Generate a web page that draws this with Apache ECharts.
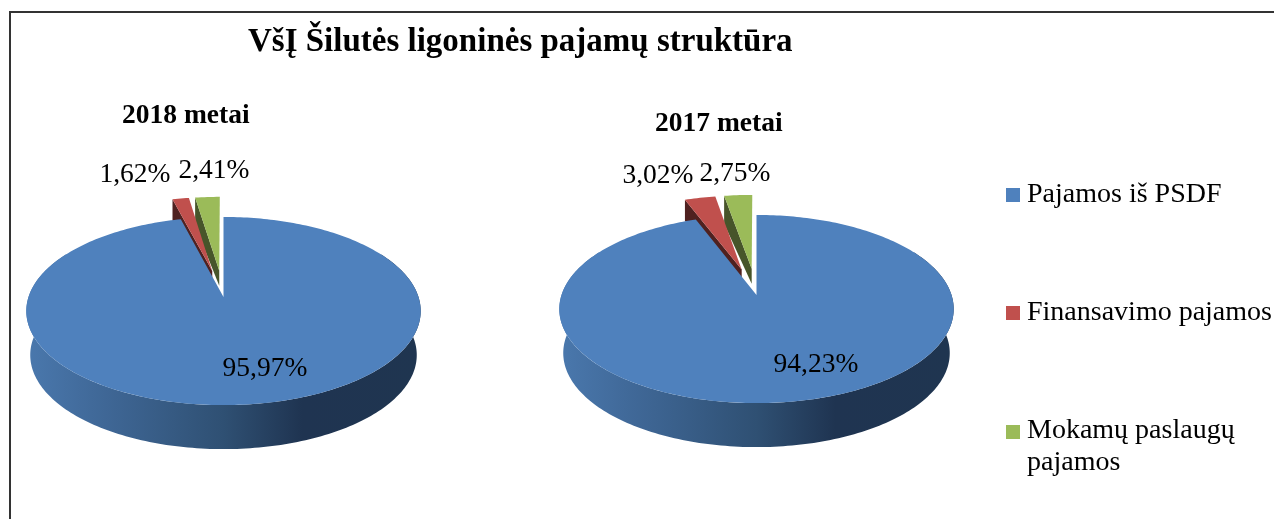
<!DOCTYPE html>
<html>
<head>
<meta charset="utf-8">
<style>html,body{margin:0;padding:0;background:#fff}#c{width:1274px;height:519px}</style>
<script src="https://cdn.jsdelivr.net/npm/echarts@6/dist/echarts.min.js"></script>
</head>
<body>
<div id="c"></div>
<script>
const chartTitle = 'VšĮ Šilutės ligoninės pajamų struktūra';
const years = ['2018 metai', '2017 metai'];
const categories = ['Pajamos iš PSDF', 'Finansavimo pajamos', 'Mokamų paslaugų pajamos'];
const psdfShare = [95.97, 94.23];
const financingShare = [1.62, 3.02];
const paidShare = [2.41, 2.75];

const serif = '"Liberation Serif", serif';
const pieCenters = [{ cx: 223.5, apexY: 297 }, { cx: 756.5, apexY: 295 }];
const shape = { A: 92, B: 195, k: 0.149, frontDepth: 44, backDepth: [0, 21, 28], explode: 0.3, apexDepth: 15, shrink: 0.98 };
const labelAnchors = {
  psdf: [[265, 369], [816, 365]],
  financing: [[135, 175], [658, 176]],
  paid: [[214, 171], [735, 174]]
};
const topFill = ['#4f81bd', '#c0504d', '#9bbb59'];
const sideFill = [null, '#4f2120', '#47552a'];

function rows(i) { return [psdfShare[i], financingShare[i], paidShare[i]]; }
function project(p, theta, r, ox, oy) {
  const u = r * Math.sin(theta) + ox, v = r * Math.cos(theta) + oy, w = 1 + shape.k * v;
  return { x: p.cx + shape.B * u / w, y: p.apexY - shape.A * v / w, w: w };
}
function arc(p, a0, a1, ox, oy) {
  const n = Math.max(2, Math.ceil(Math.abs(a1 - a0) / 0.02)), out = [];
  for (let j = 0; j <= n; j++) out.push(project(p, a0 + (a1 - a0) * j / n, 1, ox, oy));
  return out;
}
function xy(q) { return [q.x, q.y]; }

function makeRender(catIndex, anchors) {
  return function (params, api) {
    const i = params.dataIndex, p = pieCenters[i], vals = rows(i);
    const total = vals.reduce((a, b) => a + b, 0);
    let before = 0;
    for (let c = 0; c < catIndex; c++) before += vals[c];
    const a0 = before / total * Math.PI * 2;
    const a1 = (before + api.value(0)) / total * Math.PI * 2;
    const mid = (a0 + a1) / 2;
    const children = [];
    if (catIndex === 0) {
      const lo = Math.PI / 3, hi = Math.PI * 5 / 3;
      const rim = arc(p, lo, hi, 0, 0);
      const low = rim.map(q => [p.cx + (q.x - p.cx) * shape.shrink, q.y + shape.frontDepth]).reverse();
      children.push({
        type: 'polygon',
        shape: { points: rim.map(xy).concat(low) },
        style: {
          fill: new echarts.graphic.LinearGradient(1, 0, 0, 0, [
            { offset: 0, color: '#1f3550' },
            { offset: 0.3, color: '#1f3451' },
            { offset: 0.5, color: '#2f5073' },
            { offset: 0.8, color: '#3f6796' },
            { offset: 1, color: '#4a78ad' }
          ])
        }
      });
      children.push({
        type: 'polygon',
        shape: { points: [[p.cx, p.apexY]].concat(arc(p, a0, a1, 0, 0).map(xy)) },
        style: { fill: topFill[0] }
      });
    } else {
      const ox = shape.explode * Math.sin(mid), oy = shape.explode * Math.cos(mid);
      const apex = project(p, 0, 0, ox, oy);
      const start = project(p, a0, 1, ox, oy);
      children.push({
        type: 'polygon',
        shape: { points: [xy(apex), xy(start), [start.x, start.y + shape.backDepth[catIndex]], [apex.x, apex.y + shape.apexDepth]] },
        style: { fill: sideFill[catIndex] }
      });
      children.push({
        type: 'polygon',
        shape: { points: [xy(apex)].concat(arc(p, a0, a1, ox, oy).map(xy)) },
        style: { fill: topFill[catIndex] }
      });
    }
    children.push({
      type: 'text',
      style: {
        x: anchors[i][0], y: anchors[i][1],
        text: api.value(0).toFixed(2).replace('.', ',') + '%',
        fill: '#000', font: '27.5px ' + serif, align: 'center', verticalAlign: 'middle'
      }
    });
    return { type: 'group', children: children };
  };
}
function pieSeries(catIndex, values, anchors, z) {
  return {
    type: 'custom', name: categories[catIndex], coordinateSystem: 'none', z: z,
    itemStyle: { color: topFill[catIndex] },
    data: values.map(v => [v]),
    renderItem: makeRender(catIndex, anchors)
  };
}
const legendText = { color: '#000', fontFamily: serif, fontSize: 28, padding: [0, 0, 0, 2] };
const legendBase = { orient: 'vertical', left: 1006, itemWidth: 14, itemHeight: 14, icon: 'rect', selectedMode: false, padding: 0, textStyle: legendText };

const chart = echarts.init(document.getElementById('c'));
chart.setOption({
  backgroundColor: '#fff',
  animation: false,
  title: [
    { text: chartTitle, left: 248, top: 26, padding: 0, textStyle: { fontFamily: serif, fontSize: 33, fontWeight: 'bold', color: '#000' } },
    { text: years[0], left: 122, top: 102, padding: 0, textStyle: { fontFamily: serif, fontSize: 27.5, fontWeight: 'bold', color: '#000' } },
    { text: years[1], left: 655, top: 110, padding: 0, textStyle: { fontFamily: serif, fontSize: 27.5, fontWeight: 'bold', color: '#000' } }
  ],
  legend: [
    Object.assign({}, legendBase, { top: 181, data: [categories[0]] }),
    Object.assign({}, legendBase, { top: 299, data: [categories[1]] }),
    Object.assign({}, legendBase, { top: 415, itemHeight: 64, data: [{ name: categories[2], icon: 'path://M0 0L0 0ZM0 10H14V24H0ZM0 64L0 64Z' }],
      formatter: () => 'Mokamų paslaugų\npajamos',
      textStyle: Object.assign({}, legendText, { lineHeight: 32 }) })
  ],
  graphic: [{
    type: 'polyline', silent: true,
    shape: { points: [[10, 525], [10, 12], [1280, 12]] },
    style: { stroke: '#333', lineWidth: 2, fill: null }
  }],
  series: [
    pieSeries(2, paidShare, labelAnchors.paid, 2),
    pieSeries(1, financingShare, labelAnchors.financing, 3),
    pieSeries(0, psdfShare, labelAnchors.psdf, 4)
  ]
});
</script>
</body>
</html>
